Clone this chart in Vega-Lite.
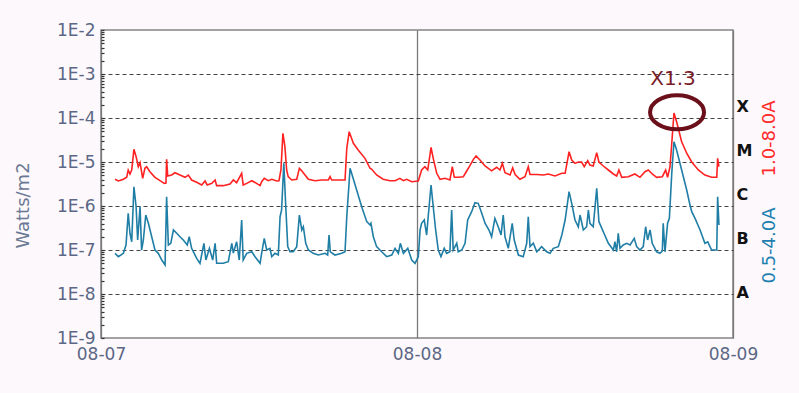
{
 "$schema": "https://vega.github.io/schema/vega-lite/v6.json",
 "width": 632, "height": 308,
 "autosize": {"type": "none"},
 "padding": {"left": 101, "top": 30, "right": 66, "bottom": 55},
 "background": "#fdf8fc",
 "view": {"fill": "white", "stroke": "#858585", "strokeWidth": 1.5},
 "config": {"font": "DejaVu Sans"},
 "datasets": {
  "long": [
   {"t":"2024-08-07T01:04","f":4.05e-6},{"t":"2024-08-07T01:19","f":3.7e-6},{"t":"2024-08-07T01:42","f":4.05e-6},{"t":"2024-08-07T01:57","f":4.49e-6},{"t":"2024-08-07T02:04","f":6.58e-6},{"t":"2024-08-07T02:12","f":5.34e-6},{"t":"2024-08-07T02:20","f":6.58e-6},{"t":"2024-08-07T02:30","f":1.94e-5},{"t":"2024-08-07T02:40","f":1.32e-5},{"t":"2024-08-07T02:50","f":7.8e-6},{"t":"2024-08-07T02:58","f":9.6e-6},{"t":"2024-08-07T03:10","f":4.26e-6},{"t":"2024-08-07T03:20","f":7.2e-6},{"t":"2024-08-07T03:28","f":7.8e-6},{"t":"2024-08-07T03:43","f":6.0e-6},{"t":"2024-08-07T04:06","f":4.49e-6},{"t":"2024-08-07T04:29","f":3.76e-6},{"t":"2024-08-07T04:48","f":3.27e-6},{"t":"2024-08-07T04:56","f":3.33e-6},{"t":"2024-08-07T04:59","f":1.15e-5},{"t":"2024-08-07T05:04","f":4.81e-6},{"t":"2024-08-07T05:22","f":5.06e-6},{"t":"2024-08-07T05:37","f":5.7e-6},{"t":"2024-08-07T06:00","f":5.06e-6},{"t":"2024-08-07T06:23","f":4.49e-6},{"t":"2024-08-07T06:38","f":5.06e-6},{"t":"2024-08-07T06:53","f":3.9e-6},{"t":"2024-08-07T07:16","f":3.46e-6},{"t":"2024-08-07T07:39","f":3.0e-6},{"t":"2024-08-07T07:54","f":3.7e-6},{"t":"2024-08-07T08:04","f":3.0e-6},{"t":"2024-08-07T08:25","f":3.27e-6},{"t":"2024-08-07T08:40","f":3.9e-6},{"t":"2024-08-07T08:47","f":2.9e-6},{"t":"2024-08-07T09:17","f":2.9e-6},{"t":"2024-08-07T09:48","f":3.16e-6},{"t":"2024-08-07T10:03","f":3.9e-6},{"t":"2024-08-07T10:18","f":3.38e-6},{"t":"2024-08-07T10:41","f":5.53e-6},{"t":"2024-08-07T10:48","f":3.0e-6},{"t":"2024-08-07T11:04","f":3.27e-6},{"t":"2024-08-07T11:27","f":3.76e-6},{"t":"2024-08-07T11:49","f":3.27e-6},{"t":"2024-08-07T12:05","f":2.9e-6},{"t":"2024-08-07T12:12","f":3.56e-6},{"t":"2024-08-07T12:24","f":4.26e-6},{"t":"2024-08-07T12:42","f":3.76e-6},{"t":"2024-08-07T12:58","f":4.05e-6},{"t":"2024-08-07T13:21","f":3.7e-6},{"t":"2024-08-07T13:31","f":3.76e-6},{"t":"2024-08-07T13:40","f":6.58e-6},{"t":"2024-08-07T13:49","f":4.49e-5},{"t":"2024-08-07T13:58","f":2.23e-5},{"t":"2024-08-07T14:06","f":6.58e-6},{"t":"2024-08-07T14:13","f":4.64e-6},{"t":"2024-08-07T14:29","f":3.9e-6},{"t":"2024-08-07T14:52","f":4.05e-6},{"t":"2024-08-07T15:04","f":7.2e-6},{"t":"2024-08-07T15:15","f":6.3e-6},{"t":"2024-08-07T15:26","f":5.34e-6},{"t":"2024-08-07T15:45","f":4.05e-6},{"t":"2024-08-07T16:15","f":3.76e-6},{"t":"2024-08-07T16:46","f":3.9e-6},{"t":"2024-08-07T17:16","f":3.9e-6},{"t":"2024-08-07T17:24","f":4.64e-6},{"t":"2024-08-07T17:31","f":3.9e-6},{"t":"2024-08-07T18:32","f":3.9e-6},{"t":"2024-08-07T18:40","f":2.05e-5},{"t":"2024-08-07T18:51","f":4.88e-5},{"t":"2024-08-07T19:10","f":2.66e-5},{"t":"2024-08-07T19:32","f":1.87e-5},{"t":"2024-08-07T20:03","f":1.21e-5},{"t":"2024-08-07T20:26","f":7.2e-6},{"t":"2024-08-07T20:34","f":6.83e-6},{"t":"2024-08-07T20:56","f":5.06e-6},{"t":"2024-08-07T21:26","f":4.05e-6},{"t":"2024-08-07T21:57","f":3.76e-6},{"t":"2024-08-07T22:20","f":3.76e-6},{"t":"2024-08-07T22:42","f":4.26e-6},{"t":"2024-08-07T22:58","f":3.76e-6},{"t":"2024-08-07T23:13","f":4.05e-6},{"t":"2024-08-07T23:36","f":3.56e-6},
   {"t":"2024-08-08T00:06","f":3.7e-6},{"t":"2024-08-08T00:21","f":6.58e-6},{"t":"2024-08-08T00:36","f":7.8e-6},{"t":"2024-08-08T00:49","f":6.58e-6},{"t":"2024-08-08T01:04","f":2.16e-5},{"t":"2024-08-08T01:14","f":1.21e-5},{"t":"2024-08-08T01:30","f":5.53e-6},{"t":"2024-08-08T01:45","f":4.05e-6},{"t":"2024-08-08T02:08","f":4.26e-6},{"t":"2024-08-08T02:30","f":3.9e-6},{"t":"2024-08-08T02:41","f":7.8e-6},{"t":"2024-08-08T02:50","f":4.49e-6},{"t":"2024-08-08T03:08","f":4.49e-6},{"t":"2024-08-08T03:31","f":4.64e-6},{"t":"2024-08-08T03:54","f":7.2e-6},{"t":"2024-08-08T04:17","f":1.15e-5},{"t":"2024-08-08T04:29","f":1.37e-5},{"t":"2024-08-08T04:47","f":1.11e-5},{"t":"2024-08-08T05:10","f":8.11e-6},{"t":"2024-08-08T05:40","f":6.3e-6},{"t":"2024-08-08T06:03","f":7.6e-6},{"t":"2024-08-08T06:18","f":6.58e-6},{"t":"2024-08-08T06:29","f":9.3e-6},{"t":"2024-08-08T06:41","f":5.7e-6},{"t":"2024-08-08T07:04","f":5.06e-6},{"t":"2024-08-08T07:16","f":7.4e-6},{"t":"2024-08-08T07:27","f":5.2e-6},{"t":"2024-08-08T07:49","f":4.05e-6},{"t":"2024-08-08T08:12","f":4.64e-6},{"t":"2024-08-08T08:27","f":7.8e-6},{"t":"2024-08-08T08:35","f":5.2e-6},{"t":"2024-08-08T09:06","f":5.2e-6},{"t":"2024-08-08T09:36","f":5.06e-6},{"t":"2024-08-08T09:58","f":5.34e-6},{"t":"2024-08-08T10:29","f":4.81e-6},{"t":"2024-08-08T11:00","f":5.53e-6},{"t":"2024-08-08T11:15","f":5.53e-6},{"t":"2024-08-08T11:33","f":1.71e-5},{"t":"2024-08-08T11:45","f":1.11e-5},{"t":"2024-08-08T12:00","f":9.3e-6},{"t":"2024-08-08T12:15","f":1.0e-5},{"t":"2024-08-08T12:30","f":1.0e-5},{"t":"2024-08-08T12:42","f":7.8e-6},{"t":"2024-08-08T12:58","f":1.07e-5},{"t":"2024-08-08T13:08","f":8.5e-6},{"t":"2024-08-08T13:23","f":8.11e-6},{"t":"2024-08-08T13:39","f":1.63e-5},{"t":"2024-08-08T13:49","f":1.0e-5},{"t":"2024-08-08T14:09","f":8.11e-6},{"t":"2024-08-08T14:32","f":6.58e-6},{"t":"2024-08-08T14:55","f":5.34e-6},{"t":"2024-08-08T15:10","f":4.81e-6},{"t":"2024-08-08T15:20","f":6.58e-6},{"t":"2024-08-08T15:33","f":4.49e-6},{"t":"2024-08-08T16:03","f":4.64e-6},{"t":"2024-08-08T16:33","f":5.34e-6},{"t":"2024-08-08T16:56","f":4.49e-6},{"t":"2024-08-08T17:19","f":6.0e-6},{"t":"2024-08-08T17:34","f":6.58e-6},{"t":"2024-08-08T17:52","f":5.34e-6},{"t":"2024-08-08T18:12","f":4.49e-6},{"t":"2024-08-08T18:38","f":4.64e-6},{"t":"2024-08-08T18:53","f":6.58e-6},{"t":"2024-08-08T19:02","f":4.49e-6},{"t":"2024-08-08T19:13","f":7.8e-6},{"t":"2024-08-08T19:21","f":2.66e-5},{"t":"2024-08-08T19:31","f":1.3e-4},{"t":"2024-08-08T19:43","f":8.2e-5},{"t":"2024-08-08T20:06","f":2.89e-5},{"t":"2024-08-08T20:29","f":1.58e-5},{"t":"2024-08-08T20:52","f":1.0e-5},{"t":"2024-08-08T21:22","f":6.58e-6},{"t":"2024-08-08T21:52","f":5.06e-6},{"t":"2024-08-08T22:23","f":4.49e-6},{"t":"2024-08-08T22:46","f":4.49e-6},{"t":"2024-08-08T22:50","f":1.21e-5},{"t":"2024-08-08T22:56","f":7.8e-6}
  ],
  "short": [
   {"t":"2024-08-07T01:04","f":8.4e-8},{"t":"2024-08-07T01:19","f":7.05e-8},{"t":"2024-08-07T01:42","f":8.4e-8},{"t":"2024-08-07T01:54","f":1.3e-7},{"t":"2024-08-07T02:04","f":6.83e-7},{"t":"2024-08-07T02:12","f":2.4e-7},{"t":"2024-08-07T02:20","f":1.54e-7},{"t":"2024-08-07T02:30","f":2.74e-6},{"t":"2024-08-07T02:40","f":9.6e-7},{"t":"2024-08-07T02:47","f":1.69e-7},{"t":"2024-08-07T02:58","f":9.6e-7},{"t":"2024-08-07T03:05","f":1.0e-7},{"t":"2024-08-07T03:13","f":1.69e-7},{"t":"2024-08-07T03:24","f":6.24e-7},{"t":"2024-08-07T03:36","f":4.05e-7},{"t":"2024-08-07T03:51","f":2.0e-7},{"t":"2024-08-07T04:06","f":1.0e-7},{"t":"2024-08-07T04:21","f":8.4e-8},{"t":"2024-08-07T04:37","f":5.92e-8},{"t":"2024-08-07T04:52","f":4.56e-8},{"t":"2024-08-07T04:59","f":1.63e-6},{"t":"2024-08-07T05:07","f":1.3e-7},{"t":"2024-08-07T05:18","f":1.42e-7},{"t":"2024-08-07T05:30","f":2.85e-7},{"t":"2024-08-07T05:45","f":2.4e-7},{"t":"2024-08-07T06:00","f":2.0e-7},{"t":"2024-08-07T06:15","f":1.69e-7},{"t":"2024-08-07T06:33","f":1.3e-7},{"t":"2024-08-07T06:42","f":2.0e-7},{"t":"2024-08-07T06:53","f":1.09e-7},{"t":"2024-08-07T07:16","f":6.47e-8},{"t":"2024-08-07T07:31","f":4.98e-8},{"t":"2024-08-07T07:49","f":1.42e-7},{"t":"2024-08-07T07:58","f":5.92e-8},{"t":"2024-08-07T08:14","f":1.09e-7},{"t":"2024-08-07T08:29","f":5.92e-8},{"t":"2024-08-07T08:40","f":1.42e-7},{"t":"2024-08-07T08:47","f":4.98e-8},{"t":"2024-08-07T09:17","f":4.98e-8},{"t":"2024-08-07T09:40","f":5.42e-8},{"t":"2024-08-07T09:56","f":1.42e-7},{"t":"2024-08-07T10:03","f":8.5e-8},{"t":"2024-08-07T10:18","f":1.54e-7},{"t":"2024-08-07T10:30","f":5.92e-8},{"t":"2024-08-07T10:41","f":4.81e-7},{"t":"2024-08-07T10:48","f":5.92e-8},{"t":"2024-08-07T11:04","f":8.4e-8},{"t":"2024-08-07T11:27","f":9.1e-8},{"t":"2024-08-07T11:42","f":7.05e-8},{"t":"2024-08-07T12:05","f":4.98e-8},{"t":"2024-08-07T12:12","f":8.4e-8},{"t":"2024-08-07T12:24","f":1.84e-7},{"t":"2024-08-07T12:35","f":1.0e-7},{"t":"2024-08-07T12:50","f":1.09e-7},{"t":"2024-08-07T12:58","f":7.05e-8},{"t":"2024-08-07T13:13","f":8.4e-8},{"t":"2024-08-07T13:28","f":7.69e-8},{"t":"2024-08-07T13:36","f":5.71e-7},{"t":"2024-08-07T13:43","f":8.11e-7},{"t":"2024-08-07T13:53","f":9.3e-6},{"t":"2024-08-07T14:02","f":9.6e-7},{"t":"2024-08-07T14:11","f":1.19e-7},{"t":"2024-08-07T14:21","f":9.1e-8},{"t":"2024-08-07T14:36","f":9.1e-8},{"t":"2024-08-07T14:52","f":1.19e-7},{"t":"2024-08-07T15:04","f":6.24e-7},{"t":"2024-08-07T15:15","f":2.85e-7},{"t":"2024-08-07T15:22","f":3.38e-7},{"t":"2024-08-07T15:33","f":1.42e-7},{"t":"2024-08-07T15:45","f":1.0e-7},{"t":"2024-08-07T16:07","f":8.4e-8},{"t":"2024-08-07T16:30","f":7.69e-8},{"t":"2024-08-07T17:01","f":8.4e-8},{"t":"2024-08-07T17:13","f":7.69e-8},{"t":"2024-08-07T17:19","f":2.19e-7},{"t":"2024-08-07T17:25","f":9.1e-8},{"t":"2024-08-07T17:46","f":7.69e-8},{"t":"2024-08-07T18:17","f":8.4e-8},{"t":"2024-08-07T18:32","f":9.1e-8},{"t":"2024-08-07T18:40","f":5.71e-7},{"t":"2024-08-07T18:55","f":7.2e-6},{"t":"2024-08-07T19:02","f":5.53e-6},{"t":"2024-08-07T19:25","f":2.31e-6},{"t":"2024-08-07T19:48","f":9.6e-7},{"t":"2024-08-07T20:11","f":4.4e-7},{"t":"2024-08-07T20:26","f":3.7e-7},{"t":"2024-08-07T20:30","f":4.05e-7},{"t":"2024-08-07T20:41","f":2.0e-7},{"t":"2024-08-07T20:56","f":1.19e-7},{"t":"2024-08-07T21:19","f":9.1e-8},{"t":"2024-08-07T21:42","f":7.05e-8},{"t":"2024-08-07T22:05","f":7.69e-8},{"t":"2024-08-07T22:20","f":1.09e-7},{"t":"2024-08-07T22:35","f":8.4e-8},{"t":"2024-08-07T22:44","f":1.42e-7},{"t":"2024-08-07T22:58","f":8.4e-8},{"t":"2024-08-07T23:18","f":1.09e-7},{"t":"2024-08-07T23:36","f":5.92e-8},{"t":"2024-08-07T23:51","f":4.98e-8},
   {"t":"2024-08-08T00:06","f":7.05e-8},{"t":"2024-08-08T00:14","f":2.85e-7},{"t":"2024-08-08T00:21","f":4.05e-7},{"t":"2024-08-08T00:33","f":4.81e-7},{"t":"2024-08-08T00:44","f":2.19e-7},{"t":"2024-08-08T00:51","f":5.71e-7},{"t":"2024-08-08T01:04","f":3.0e-6},{"t":"2024-08-08T01:14","f":9.6e-7},{"t":"2024-08-08T01:25","f":2.85e-7},{"t":"2024-08-08T01:37","f":1.0e-7},{"t":"2024-08-08T01:49","f":7.05e-8},{"t":"2024-08-08T02:04","f":1.09e-7},{"t":"2024-08-08T02:15","f":8.4e-8},{"t":"2024-08-08T02:30","f":9.1e-8},{"t":"2024-08-08T02:38","f":8.11e-7},{"t":"2024-08-08T02:45","f":1.0e-7},{"t":"2024-08-08T03:01","f":1.42e-7},{"t":"2024-08-08T03:08","f":9.1e-8},{"t":"2024-08-08T03:24","f":1.0e-7},{"t":"2024-08-08T03:39","f":1.42e-7},{"t":"2024-08-08T03:51","f":4.81e-7},{"t":"2024-08-08T04:09","f":7.42e-7},{"t":"2024-08-08T04:24","f":1.19e-6},{"t":"2024-08-08T04:39","f":1.15e-6},{"t":"2024-08-08T04:55","f":6.83e-7},{"t":"2024-08-08T05:10","f":4.05e-7},{"t":"2024-08-08T05:28","f":2.85e-7},{"t":"2024-08-08T05:40","f":2.0e-7},{"t":"2024-08-08T05:55","f":5.25e-7},{"t":"2024-08-08T06:10","f":3.38e-7},{"t":"2024-08-08T06:23","f":2.19e-7},{"t":"2024-08-08T06:33","f":6.24e-7},{"t":"2024-08-08T06:41","f":2.0e-7},{"t":"2024-08-08T06:56","f":1.09e-7},{"t":"2024-08-08T07:14","f":4.05e-7},{"t":"2024-08-08T07:23","f":1.69e-7},{"t":"2024-08-08T07:42","f":7.69e-8},{"t":"2024-08-08T08:04","f":7.05e-8},{"t":"2024-08-08T08:20","f":1.42e-7},{"t":"2024-08-08T08:27","f":5.71e-7},{"t":"2024-08-08T08:35","f":1.19e-7},{"t":"2024-08-08T08:50","f":1.42e-7},{"t":"2024-08-08T09:06","f":9.1e-8},{"t":"2024-08-08T09:28","f":1.19e-7},{"t":"2024-08-08T09:51","f":9.1e-8},{"t":"2024-08-08T10:06","f":8.4e-8},{"t":"2024-08-08T10:21","f":1.09e-7},{"t":"2024-08-08T10:44","f":1.19e-7},{"t":"2024-08-08T11:00","f":2.19e-7},{"t":"2024-08-08T11:15","f":4.81e-7},{"t":"2024-08-08T11:33","f":2.11e-6},{"t":"2024-08-08T11:45","f":1.15e-6},{"t":"2024-08-08T12:00","f":4.81e-7},{"t":"2024-08-08T12:15","f":3.38e-7},{"t":"2024-08-08T12:23","f":6.24e-7},{"t":"2024-08-08T12:38","f":2.85e-7},{"t":"2024-08-08T12:53","f":3.38e-7},{"t":"2024-08-08T13:01","f":8.11e-7},{"t":"2024-08-08T13:08","f":4.05e-7},{"t":"2024-08-08T13:23","f":3.38e-7},{"t":"2024-08-08T13:39","f":2.53e-6},{"t":"2024-08-08T13:49","f":4.4e-7},{"t":"2024-08-08T14:09","f":2.6e-7},{"t":"2024-08-08T14:32","f":1.42e-7},{"t":"2024-08-08T14:55","f":1.0e-7},{"t":"2024-08-08T15:02","f":1.54e-7},{"t":"2024-08-08T15:10","f":9.1e-8},{"t":"2024-08-08T15:17","f":2.4e-7},{"t":"2024-08-08T15:25","f":1.09e-7},{"t":"2024-08-08T15:40","f":1.3e-7},{"t":"2024-08-08T15:56","f":1.42e-7},{"t":"2024-08-08T16:11","f":1.3e-7},{"t":"2024-08-08T16:30","f":1.84e-7},{"t":"2024-08-08T16:41","f":1.19e-7},{"t":"2024-08-08T16:56","f":1.0e-7},{"t":"2024-08-08T17:11","f":1.19e-7},{"t":"2024-08-08T17:22","f":3.38e-7},{"t":"2024-08-08T17:31","f":1.69e-7},{"t":"2024-08-08T17:42","f":2.85e-7},{"t":"2024-08-08T17:52","f":1.42e-7},{"t":"2024-08-08T18:12","f":9.1e-8},{"t":"2024-08-08T18:27","f":8.4e-8},{"t":"2024-08-08T18:38","f":9.5e-8},{"t":"2024-08-08T18:42","f":4.05e-7},{"t":"2024-08-08T18:50","f":9.1e-8},{"t":"2024-08-08T19:02","f":4.05e-7},{"t":"2024-08-08T19:10","f":5.25e-7},{"t":"2024-08-08T19:21","f":5.53e-6},{"t":"2024-08-08T19:31","f":2.89e-5},{"t":"2024-08-08T19:43","f":1.87e-5},{"t":"2024-08-08T20:06","f":6.58e-6},{"t":"2024-08-08T20:29","f":2.31e-6},{"t":"2024-08-08T20:44","f":1.05e-6},{"t":"2024-08-08T20:52","f":7.42e-7},{"t":"2024-08-08T21:07","f":5.25e-7},{"t":"2024-08-08T21:30","f":2.85e-7},{"t":"2024-08-08T21:52","f":1.42e-7},{"t":"2024-08-08T22:05","f":1.54e-7},{"t":"2024-08-08T22:15","f":1.19e-7},{"t":"2024-08-08T22:23","f":1.0e-7},{"t":"2024-08-08T22:46","f":1.0e-7},{"t":"2024-08-08T22:50","f":1.63e-6},{"t":"2024-08-08T22:56","f":3.7e-7}
  ],
  "note": [{"t":"2024-08-08T19:45","f":1.35e-4,"label":"X1.3"}]
 },
 "resolve": {"scale": {"y": "independent"}, "axis": {"y": "independent"}},
 "layer": [
  {
   "data": {"name": "long"},
   "mark": {"type": "line", "color": "#ff2222", "strokeWidth": 1.6},
   "encoding": {
    "x": {"field": "t", "type": "temporal",
     "scale": {"domain": [{"year":2024,"month":8,"date":7},{"year":2024,"month":8,"date":9}]},
     "axis": {"values": [{"year":2024,"month":8,"date":7},{"year":2024,"month":8,"date":8},{"year":2024,"month":8,"date":9}],
      "format": "%m-%d", "grid": true, "gridColor": "#7a7a7a", "gridWidth": 1.3, "ticks": false, "domain": false,
      "labelFontSize": 17, "labelColor": "#5b6784", "labelPadding": 8, "labelFlush": false, "title": null}},
    "y": {"field": "f", "type": "quantitative",
     "scale": {"type": "log", "domain": [1e-9, 1e-2], "nice": false},
     "axis": {"orient": "left",
      "values": [1e-9,2e-9,3e-9,4e-9,5e-9,6e-9,7e-9,8e-9,9e-9,1e-8,2e-8,3e-8,4e-8,5e-8,6e-8,7e-8,8e-8,9e-8,1e-7,2e-7,3e-7,4e-7,5e-7,6e-7,7e-7,8e-7,9e-7,1e-6,2e-6,3e-6,4e-6,5e-6,6e-6,7e-6,8e-6,9e-6,1e-5,2e-5,3e-5,4e-5,5e-5,6e-5,7e-5,8e-5,9e-5,1e-4,2e-4,3e-4,4e-4,5e-4,6e-4,7e-4,8e-4,9e-4,1e-3,2e-3,3e-3,4e-3,5e-3,6e-3,7e-3,8e-3,9e-3,1e-2],
      "labelExpr": "abs(log(datum.value)/LN10 - round(log(datum.value)/LN10)) < 0.001 ? '1E' + round(log(datum.value)/LN10) : ''",
      "labelOverlap": false, "labelFontSize": 17, "labelColor": "#5b6784", "labelPadding": 9,
      "ticks": true, "tickSize": -3, "tickColor": "#333333", "tickWidth": 1.2,
      "domain": false, "grid": false,
      "title": "Watts/m2", "titleFontSize": 18, "titleFontWeight": "normal", "titleColor": "#6b7894",
      "titleAngle": 270, "titleX": -78, "titleY": 175, "titleAlign": "center", "titleBaseline": "middle"}}
   }
  },
  {
   "data": {"name": "short"},
   "mark": {"type": "line", "color": "#1f7ea5", "strokeWidth": 1.6},
   "encoding": {
    "x": {"field": "t", "type": "temporal"},
    "y": {"field": "f", "type": "quantitative",
     "scale": {"type": "log", "domain": [1e-9, 1e-2], "nice": false},
     "axis": {"orient": "left", "values": [1e-8,1e-7,1e-6,1e-5,1e-4,1e-3],
      "grid": true, "gridDash": [4, 3], "gridColor": "#444444", "gridWidth": 1.2,
      "labels": false, "ticks": false, "domain": false, "title": null}}
   }
  },
  {
   "data": {"name": "note"},
   "mark": {"type": "point", "shape": "M-1,0C-1,-0.348,-0.552,-0.63,0,-0.63C0.552,-0.63,1,-0.348,1,0C1,0.348,0.552,0.63,0,0.63C-0.552,0.63,-1,0.348,-1,0Z",
    "size": 2916, "filled": false, "stroke": "#6b0f1a", "strokeWidth": 4, "opacity": 1},
   "encoding": {
    "x": {"field": "t", "type": "temporal"},
    "y": {"field": "f", "type": "quantitative",
     "scale": {"type": "log", "domain": [1e-9, 1e-2], "nice": false},
     "axis": {"orient": "right", "values": [1.8e-4, 1.8e-5, 1.8e-6, 1.8e-7, 1.1e-8],
      "labelExpr": "datum.value > 1e-4 ? 'X' : datum.value > 1e-5 ? 'M' : datum.value > 1e-6 ? 'C' : datum.value > 1e-7 ? 'B' : 'A'",
      "labelFontSize": 16, "labelFontWeight": "bold", "labelColor": "#111111", "labelPadding": 3, "labelAlign": "left",
      "ticks": false, "domain": false, "grid": false,
      "title": "1.0-8.0A", "titleFontSize": 18, "titleFontWeight": "normal", "titleColor": "#ff2a2a",
      "titleAngle": 270, "titleX": 36, "titleY": 108, "titleAlign": "center", "titleBaseline": "middle"}}
   }
  },
  {
   "data": {"name": "note"},
   "mark": {"type": "text", "fontSize": 20, "color": "#7a1a26", "dy": -33, "dx": -4, "baseline": "middle", "align": "center"},
   "encoding": {
    "x": {"field": "t", "type": "temporal"},
    "y": {"field": "f", "type": "quantitative",
     "scale": {"type": "log", "domain": [1e-9, 1e-2], "nice": false},
     "axis": {"orient": "right", "labels": false, "ticks": false, "domain": false, "grid": false,
      "title": "0.5-4.0A", "titleFontSize": 18, "titleFontWeight": "normal", "titleColor": "#2080b0",
      "titleAngle": 270, "titleX": 36, "titleY": 215, "titleAlign": "center", "titleBaseline": "middle"}},
    "text": {"field": "label"}
   }
  }
 ]
}
